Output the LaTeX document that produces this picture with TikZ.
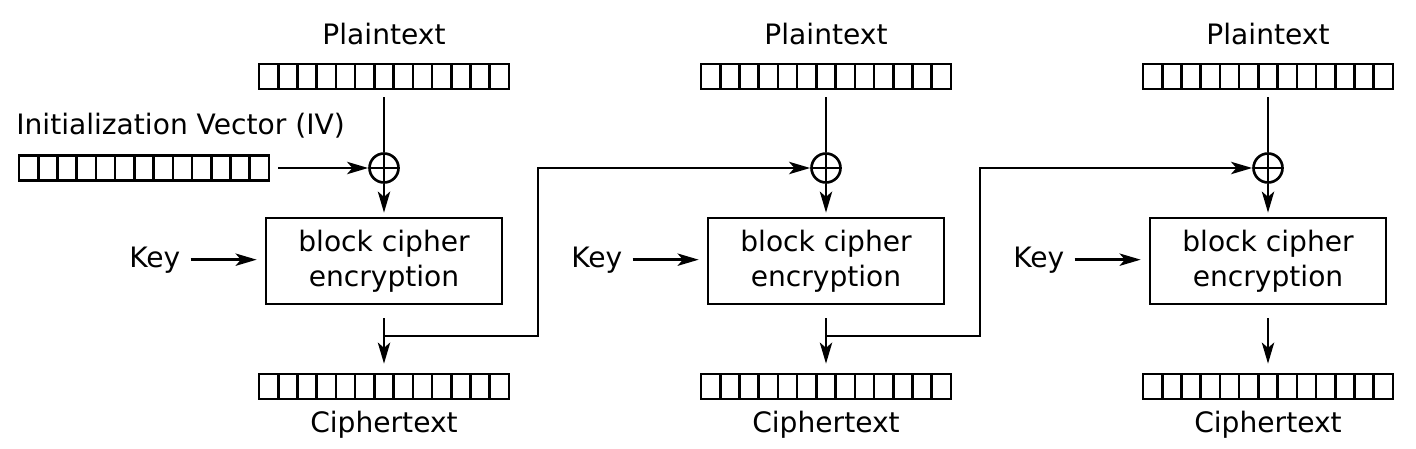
\documentclass[tikz,border=0pt]{standalone}
\usepackage{fontspec}
\setmainfont{DejaVu Sans}
\usetikzlibrary{arrows.meta,positioning}

\begin{document}
\begin{tikzpicture}[
  line width=1.5pt,
  font=\fontsize{16}{20}\selectfont,
  bar/.style={draw, minimum width=5cm, minimum height=0.5cm, inner sep=0pt,
    path picture={\foreach \k in {1,...,12}
      \draw ([xshift=\k*5cm/13]path picture bounding box.south west) -- ([xshift=\k*5cm/13]path picture bounding box.north west);}},
  xor/.style={draw, circle, minimum size=0.58cm, inner sep=0pt,
    path picture={\draw (path picture bounding box.north) -- (path picture bounding box.south)
      (path picture bounding box.west) -- (path picture bounding box.east);}},
  box/.style={draw, align=center, minimum width=4.72cm, minimum height=1.72cm, inner sep=0pt},
  lbl/.style={inner sep=0pt, anchor=base},
  arr/.style={-{Stealth[length=12pt, width=7pt, inset=3pt]}}]

  \useasboundingbox (0,0) rectangle (28.32,-8.98);

  % IV
  \node[lbl, anchor=base west] (ivlabel) at (0.30,-2.70) {Initialization Vector (IV)};
  \node[bar] (iv) at (2.88,-3.36) {};

  % Block 1
  \node[lbl] (p1) at (7.68,-0.90) {Plaintext};
  \node[bar] (pt1) at (7.68,-1.53) {};
  \node[xor] (x1) at (7.68,-3.36) {};
  \node[lbl, anchor=base west] (k1) at (2.56,-5.34) {Key};
  \node[box] (e1) at (7.68,-5.22) {block cipher\\encryption};
  \node[bar] (ct1) at (7.68,-7.73) {};
  \node[lbl] (c1) at (7.68,-8.64) {Ciphertext};
  \coordinate (br1) at (7.68,-6.72);
  \coordinate (j1) at (10.76,-5);

  % Block 2
  \node[lbl] (p2) at (16.52,-0.90) {Plaintext};
  \node[bar] (pt2) at (16.52,-1.53) {};
  \node[xor] (x2) at (16.52,-3.36) {};
  \node[lbl, anchor=base west] (k2) at (11.40,-5.34) {Key};
  \node[box] (e2) at (16.52,-5.22) {block cipher\\encryption};
  \node[bar] (ct2) at (16.52,-7.73) {};
  \node[lbl] (c2) at (16.52,-8.64) {Ciphertext};
  \coordinate (br2) at (16.52,-6.72);
  \coordinate (j2) at (19.60,-5);

  % Block 3
  \node[lbl] (p3) at (25.36,-0.90) {Plaintext};
  \node[bar] (pt3) at (25.36,-1.53) {};
  \node[xor] (x3) at (25.36,-3.36) {};
  \node[lbl, anchor=base west] (k3) at (20.24,-5.34) {Key};
  \node[box] (e3) at (25.36,-5.22) {block cipher\\encryption};
  \node[bar] (ct3) at (25.36,-7.73) {};
  \node[lbl] (c3) at (25.36,-8.64) {Ciphertext};

  % Connecting edges
  \draw[arr, shorten <=0.16cm] (iv) -- (x1);
  \draw[shorten <=0.14cm] (pt1) -- (x1);
  \draw[shorten <=0.14cm] (pt2) -- (x2);
  \draw[shorten <=0.14cm] (pt3) -- (x3);
  \draw[arr, shorten >=0.08cm] (x1) -- (e1);
  \draw[arr, shorten >=0.08cm] (x2) -- (e2);
  \draw[arr, shorten >=0.08cm] (x3) -- (e3);
  \draw[arr, shorten <=0.18cm, shorten >=0.16cm] (k1.east) -- (k1.east -| e1.west);
  \draw[arr, shorten <=0.18cm, shorten >=0.16cm] (k2.east) -- (k2.east -| e2.west);
  \draw[arr, shorten <=0.18cm, shorten >=0.16cm] (k3.east) -- (k3.east -| e3.west);
  \draw[arr, shorten <=0.26cm, shorten >=0.18cm] (e1) -- (ct1);
  \draw[arr, shorten <=0.26cm, shorten >=0.18cm] (e2) -- (ct2);
  \draw[arr, shorten <=0.26cm, shorten >=0.18cm] (e3) -- (ct3);
  \draw[arr] (br1) -| (j1) |- (x2);
  \draw[arr] (br2) -| (j2) |- (x3);

\end{tikzpicture}
\end{document}
